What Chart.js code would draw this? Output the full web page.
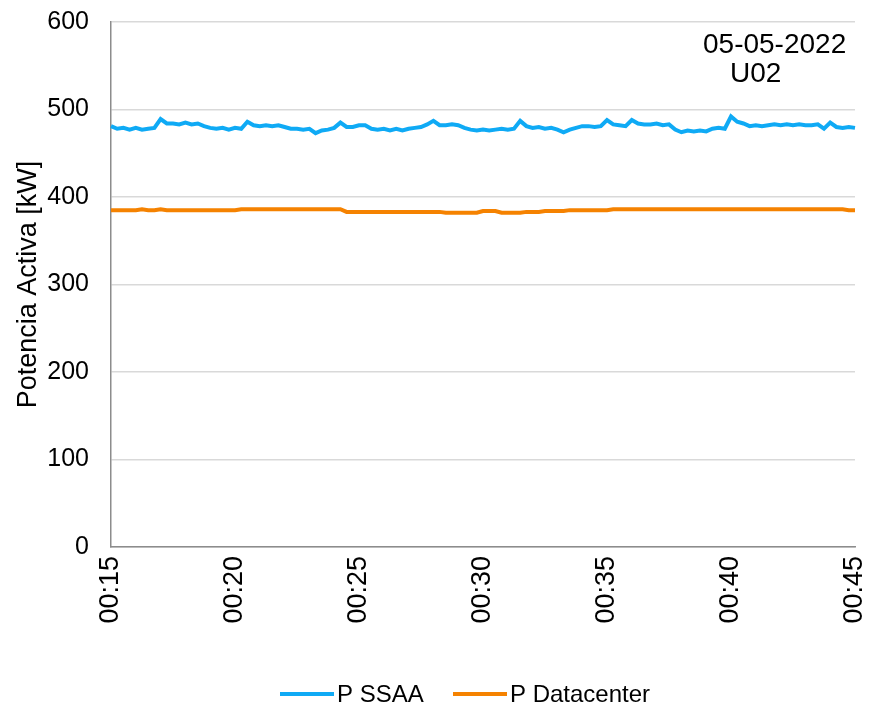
<!DOCTYPE html>
<html>
<head>
<meta charset="utf-8">
<script src="https://cdn.jsdelivr.net/npm/chart.js@4/dist/chart.umd.min.js"></script>
<style>
html,body{margin:0;padding:0;background:#fff;}
#wrap{width:870px;height:718px;}
</style>
</head>
<body>
<div id="wrap"><canvas id="chart"></canvas></div>
<script>
// samples every 15 s from 00:15:00 to 00:45:00
const startMin=15;
const stepSec=15;
const tickLabels=["00:15","00:20","00:25","00:30","00:35","00:40","00:45"];

const ssaa=[
481,478,479,477, 479,477,478,479, 489,484,484,483, 485,483,484,481,
479,478,479,477, 479,478,486,482, 481,482,481,482, 480,478,478,477,
478,473,476,477, 479,485,480,480, 482,482,478,477, 478,476,478,476,
478,479,480,483, 487,482,482,483, 482,479,477,476, 477,476,477,478,
477,478,487,481, 479,480,478,479, 477,474,477,479, 481,481,480,481,
488,483,482,481, 488,484,483,483, 484,482,483,477, 474,476,475,476,
475,478,479,478, 492,486,484,481, 482,481,482,483, 482,483,482,483,
482,482,483,478, 485,480,479,480, 479
];
const datacenter=[
385,385,385,385, 385,386,385,385, 386,385,385,385, 385,385,385,385,
385,385,385,385, 385,386,386,386, 386,386,386,386, 386,386,386,386,
386,386,386,386, 386,386,383,383, 383,383,383,383, 383,383,383,383,
383,383,383,383, 383,383,382,382, 382,382,382,382, 384,384,384,382,
382,382,382,383, 383,383,384,384, 384,384,385,385, 385,385,385,385,
385,386,386,386, 386,386,386,386, 386,386,386,386, 386,386,386,386,
386,386,386,386, 386,386,386,386, 386,386,386,386, 386,386,386,386,
386,386,386,386, 386,386,386,385, 385
];

const times=ssaa.map((v,i)=>{
const s=startMin*60+i*stepSec;
const m=Math.floor(s/60), sec=s%60;
return "00:"+String(m).padStart(2,"0")+":"+String(sec).padStart(2,"0");
});

const FONT="'Liberation Sans', Arial, sans-serif";
Chart.defaults.font.family=FONT;
Chart.defaults.color="#000";

// date label and bottom legend
const extras={
id:"extras",
afterDraw(c){
const ctx=c.ctx;
ctx.save();
ctx.fillStyle="#000";
ctx.font="28px "+FONT;
ctx.textAlign="left";
ctx.textBaseline="alphabetic";
ctx.fillText("05-05-2022",c.chartArea.right-152,53);
ctx.fillText("U02",c.chartArea.right-125,82);

const items=[{x:280},{x:453}];
ctx.font="24px "+FONT;
ctx.textBaseline="middle";
c.data.datasets.forEach((ds,i)=>{
const x=items[i].x, y=694;
ctx.strokeStyle=ds.borderColor;
ctx.lineWidth=4;
ctx.beginPath();
ctx.moveTo(x,y);ctx.lineTo(x+54,y);
ctx.stroke();
ctx.fillStyle="#000";
ctx.fillText(ds.label,x+57,y+1);
});
ctx.restore();
}
};

new Chart(document.getElementById("chart"),{
type:"line",
data:{
labels:times,
datasets:[
{label:"P SSAA",data:ssaa,borderColor:"#0FAAF5",backgroundColor:"#0FAAF5",borderWidth:4,pointRadius:0,tension:0},
{label:"P Datacenter",data:datacenter,borderColor:"#F58200",backgroundColor:"#F58200",borderWidth:4,pointRadius:0,tension:0}
]
},
options:{
responsive:true,
maintainAspectRatio:false,
animation:false,
layout:{padding:{left:0,right:15,top:22,bottom:0}},
plugins:{
legend:{display:false},
tooltip:{enabled:false}
},
scales:{
x:{
offset:false,
grid:{display:false,drawTicks:false},
border:{display:true,color:"#8c8c8c",width:1.5},
ticks:{
autoSkip:false,maxRotation:90,minRotation:90,padding:9,
font:{size:27},color:"#000",
callback:(v,i)=>i%20===0?tickLabels[i/20]:""
},
afterFit(s){s.height=171;s.paddingLeft=0;s.paddingRight=0;}
},
y:{
min:0,max:600,
grid:{color:"#d9d9d9",lineWidth:1.5,drawTicks:false},
border:{display:true,color:"#8c8c8c",width:1.5},
ticks:{stepSize:100,padding:22,font:{size:25},color:"#000"},
title:{display:true,text:"Potencia Activa [kW]",font:{size:27},color:"#000",padding:{top:12,bottom:0}},
afterFit(s){s.width=111;s.paddingTop=0;s.paddingBottom=0;}
}
}
},
plugins:[extras]
});
</script>
</body>
</html>
